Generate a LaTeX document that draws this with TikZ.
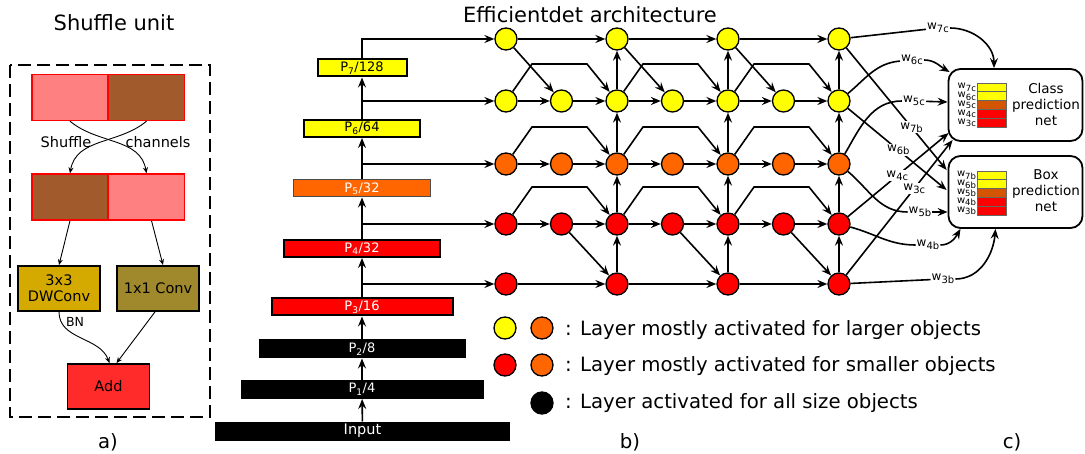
\documentclass[tikz,border=0pt]{standalone}
\usepackage{fontspec}
\setmainfont{DejaVu Sans}
\usetikzlibrary{arrows.meta,calc}
\definecolor{LargeClr}{rgb}{1,1,0}
\definecolor{MidClr}{rgb}{1,0.4,0}
\definecolor{SmallClr}{rgb}{1,0,0}
\definecolor{PinkClr}{rgb}{1,0.5,0.5}
\definecolor{BrownClr}{rgb}{0.627,0.353,0.173}
\definecolor{DwClr}{rgb}{0.831,0.667,0}
\definecolor{ConvClr}{rgb}{0.627,0.537,0.173}
\definecolor{AddClr}{rgb}{1,0.165,0.165}
\definecolor{StackClr}{rgb}{0.831,0.333,0}
\newcommand{\fsz}[2]{\fontsize{#1}{#2}\selectfont}
\newcommand{\wsub}[2]{w\raisebox{-0.25em}{\fsz{#1}{#1}#2}}

\begin{document}
\begin{tikzpicture}[x=1pt,y=1pt,
  lay/.style={circle,draw,line width=1.3pt,minimum size=22pt,inner sep=0pt},
  lvl/.style={draw,line width=2pt,minimum height=17pt,inner sep=0pt,font=\fsz{13}{13}},
  half/.style={draw=red,line width=1.4pt,minimum width=76pt,minimum height=46pt,inner sep=0pt},
  op/.style={draw,line width=1.8pt,minimum width=82pt,minimum height=45pt,inner sep=0pt,align=center,font=\fsz{14.5}{16}},
  net/.style={draw,line width=1.8pt,rounded corners=12pt,minimum width=134pt,minimum height=72pt},
  wcell/.style={draw=black!60,line width=0.6pt,minimum width=29pt,minimum height=8.8pt,inner sep=0pt},
  wl/.style={fill=white,inner sep=1pt,font=\fsz{12}{12}},
  wsm/.style={inner sep=0.5pt,font=\fsz{10}{10}},
  txt/.style={inner sep=0pt,font=\fsz{19.7}{24}},
  lnk/.style={line width=1.6pt},
  arr/.style={line width=1.6pt,-{Stealth[length=10pt,width=8pt,inset=3.5pt]}},
  sarr/.style={line width=0.9pt,-{Stealth[length=6pt,width=5pt,inset=2pt]}}]
\useasboundingbox (0,0) rectangle (1085,-454);

\node[font=\fsz{21}{24}] (ttla) at (114,-23) {Shuffle unit};
\draw[line width=1.8pt,dash pattern=on 13pt off 6pt] (10,-65) rectangle (210,-417);
\node[half,fill=PinkClr] (a1) at (70,-97.5) {};
\node[half,fill=BrownClr] (a2) at (146.5,-97.5) {};
\node[half,fill=BrownClr] (b1) at (70,-197) {};
\node[half,fill=PinkClr] (b2) at (146.5,-197) {};
\draw[sarr] (a1.south) to[out=-40,in=100] (b2.north);
\draw[sarr] (a2.south) to[out=-140,in=80] (b1.north);
\node[font=\fsz{14.5}{16}] (shf) at (66,-142) {Shuffle};
\node[font=\fsz{14.5}{16}] (chn) at (158,-142) {channels};
\node[op,fill=DwClr] (dw) at (59,-288.5) {3x3\\DWConv};
\node[op,fill=ConvClr] (cv) at (158,-288.5) {1x1 Conv};
\node[op,fill=AddClr] (add) at (108.5,-386.5) {Add};
\draw[sarr] (b1.south) -- (dw.north);
\draw[sarr] ([xshift=5pt]b2.south) -- ([xshift=5pt]cv.north);
\draw[sarr] (dw.south) to[out=-90,in=110] ([xshift=1pt]add.north);
\node[font=\fsz{12.5}{14}] (bn) at (75,-322) {BN};
\draw[sarr] ([xshift=-3pt]cv.south) -- ([xshift=8pt]add.north);
\node[txt] (cpa) at (108,-442) {a)};

\node[lvl,fill=LargeClr,minimum width=89pt] (lv7) at (362,-68) {P\textsubscript{7}/128};
\node[lvl,fill=LargeClr,minimum width=116pt] (lv6) at (362,-128.5) {P\textsubscript{6}/64};
\node[lvl,fill=MidClr,draw=black!70,line width=1pt,text=white,minimum width=137pt] (lv5) at (362,-188.5) {P\textsubscript{5}/32};
\node[lvl,fill=SmallClr,text=white,minimum width=156pt] (lv4) at (362,-248.5) {P\textsubscript{4}/32};
\node[lvl,fill=SmallClr,text=white,minimum width=181pt] (lv3) at (362,-307) {P\textsubscript{3}/16};
\node[lvl,fill=black,text=white,minimum width=205pt] (lv2) at (362,-349) {P\textsubscript{2}/8};
\node[lvl,fill=black,text=white,minimum width=241pt] (lv1) at (362,-389.5) {P\textsubscript{1}/4};
\node[lvl,fill=black,text=white,minimum width=293pt,font=\fsz{14.5}{15}] (inp) at (362.5,-431) {Input};
\draw[arr] (inp) -- (lv1);
\draw[arr] (lv1) -- (lv2);
\draw[arr] (lv2) -- (lv3);
\draw[arr] (lv3) -- (lv4);
\draw[arr] (lv4) -- (lv5);
\draw[arr] (lv5) -- (lv6);
\draw[arr] (lv6) -- (lv7);

\node[font=\fsz{21}{24}] (ttlb) at (590,-15) {Efficientdet architecture};
\foreach \c in {0,...,6}{
  \node[lay,fill=LargeClr] (p6-\c) at (506+55.5*\c,-101) {};
  \node[lay,fill=MidClr] (p5-\c) at (506+55.5*\c,-164) {};
  \node[lay,fill=SmallClr] (p4-\c) at (506+55.5*\c,-224) {};
}
\foreach \c in {0,2,4,6}{
  \node[lay,fill=LargeClr] (p7-\c) at (506+55.5*\c,-39) {};
  \node[lay,fill=SmallClr] (p3-\c) at (506+55.5*\c,-284) {};
}
\draw[arr] (lv7.north) |- (p7-0);
\foreach \l in {6,5,4,3}
  \draw[arr] (lv\l.north |- p\l-0) -- (p\l-0);

\foreach \i/\m/\o in {0/1/2,2/3/4,4/5/6}{
  \draw[arr] (p7-\i) -- (p7-\o);
  \draw[arr] (p7-\i) -- (p6-\m);
  \draw[arr] (p3-\i) -- (p3-\o);
  \draw[arr] (p4-\m) -- (p3-\o);
  \foreach \l in {6,5,4}{
    \draw[arr] (p\l-\i) -- (p\l-\m);
    \draw[arr] (p\l-\m) -- (p\l-\o);
    \draw[arr] (p\l-\i) -- ($(p\l-\i)+(26,37)$) -- ($(p\l-\o)+(-30,37)$) -- (p\l-\o);
  }
  \draw[arr] (p3-\o) -- (p4-\o);
  \draw[arr] (p4-\o) -- (p5-\o);
  \draw[arr] (p5-\o) -- (p6-\o);
  \draw[arr] (p6-\o) -- (p7-\o);
}

\node[lay,fill=LargeClr] (lg1) at (505,-328) {};
\node[lay,fill=MidClr] (lg2) at (542,-328) {};
\node[lay,fill=SmallClr] (lg3) at (505,-365) {};
\node[lay,fill=MidClr] (lg4) at (542,-365) {};
\node[lay,fill=black] (lg5) at (542,-403) {};
\node[txt,anchor=base west] (lt1) at (565,-336) {: Layer mostly activated for larger objects};
\node[txt,anchor=base west] (lt2) at (565,-372) {: Layer mostly activated for smaller objects};
\node[txt,anchor=base west] (lt3) at (565,-409) {: Layer activated for all size objects};
\node[txt] (cpb) at (630,-442) {b)};

\node[net] (cls) at (1015.5,-105) {};
\node[net] (bx) at (1015.5,-192) {};
\node[align=center,font=\fsz{13.5}{16}] (clst) at (1046,-104) {Class\\prediction\\net};
\node[align=center,font=\fsz{13.5}{16}] (bxt) at (1046,-191) {Box\\prediction\\net};
\foreach \w/\clr [count=\k] in {7/LargeClr,6/LargeClr,5/StackClr,4/SmallClr,3/SmallClr}{
  \node[wcell,fill=\clr] (sc\w) at (991.5,-78.6-8.8*\k) {};
  \node[wsm,anchor=east] (lc\w) at (sc\w.west) {\wsub{8.5}{\w c}};
  \node[wcell,fill=\clr] (sb\w) at (991.5,-166.6-8.8*\k) {};
  \node[wsm,anchor=east] (lb\w) at (sb\w.west) {\wsub{8.5}{\w b}};
}
\coordinate (t7c) at ($(cls.north)+(-21.5,0)$);
\coordinate (t6c) at ($(cls.west)+(2,33)$);
\coordinate (t5c) at ($(cls.west)+(0,3)$);
\coordinate (t4c) at ($(cls.west)+(1,-28)$);
\coordinate (t3c) at ($(cls.west)+(5,-35)$);
\coordinate (t7b) at ($(bx.west)+(-1,22)$);
\coordinate (t6b) at ($(bx.west)+(-1,2)$);
\coordinate (t5b) at ($(bx.west)+(0,-20)$);
\coordinate (t4b) at ($(bx.south)+(-55,0)$);
\coordinate (t3b) at ($(bx.south)+(-20,0)$);
\node[wl] (w7c) at (938,-28) {\wsub{10}{7c}};
\node[wl] (w6c) at (912,-60) {\wsub{10}{6c}};
\node[wl] (w5c) at (914,-101) {\wsub{10}{5c}};
\node[wl] (w5b) at (920,-212) {\wsub{10}{5b}};
\node[wl] (w4b) at (928,-245) {\wsub{10}{4b}};
\node[wl] (w3b) at (943,-279) {\wsub{10}{3b}};
\draw[lnk] (p7-6) -- (w7c);
\draw[arr] (w7c) to[out=0,in=90] (t7c);
\draw[lnk] (p6-6) to[out=40,in=185] (w6c);
\draw[arr] (w6c) to[out=0,in=150] (t6c);
\draw[lnk] (p5-6) to[out=60,in=180] (w5c);
\draw[arr] (w5c) -- (t5c);
\draw[arr] (p4-6) -- node[wl,pos=.49] (w4c) {\wsub{10}{4c}} (t4c);
\draw[arr] (p3-6) -- node[wl,pos=.64] (w3c) {\wsub{10}{3c}} (t3c);
\draw[arr] (p7-6) -- node[wl,pos=.65] (w7b) {\wsub{10}{7b}} (t7b);
\draw[arr] (p6-6) -- node[wl,pos=.51] (w6b) {\wsub{10}{6b}} (t6b);
\draw[lnk] (p5-6) to[out=-40,in=180] (w5b);
\draw[arr] (w5b) -- (t5b);
\draw[lnk] (p4-6) to[out=-15,in=180] (w4b);
\draw[arr] (w4b) to[out=0,in=240] (t4b);
\draw[lnk] (p3-6) -- (w3b);
\draw[arr] (w3b) to[out=0,in=265] (t3b);
\node[txt] (cpc) at (1012,-442) {c)};
\end{tikzpicture}
\end{document}
